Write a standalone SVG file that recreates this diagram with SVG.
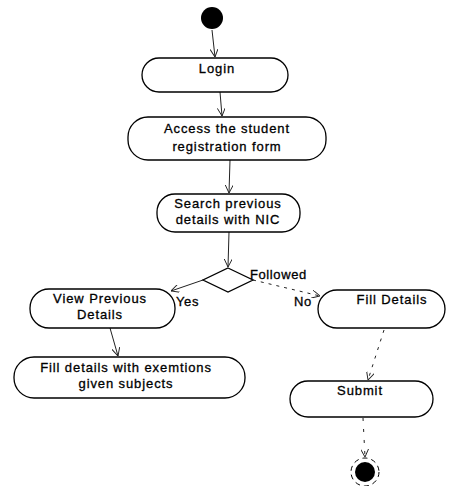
<svg xmlns="http://www.w3.org/2000/svg" width="457" height="486" viewBox="0 0 457 486">
<style>
.node{fill:#fff;stroke:#000;stroke-width:1.3}
.t{font-family:"Liberation Sans",Arial,sans-serif;font-size:13px;letter-spacing:0.9px;fill:#000;stroke:#000;stroke-width:0.3;text-anchor:middle}
.lbl{font-family:"Liberation Sans",Arial,sans-serif;font-size:13px;letter-spacing:0.6px;fill:#000;stroke:#000;stroke-width:0.3}
.c{fill:none;stroke:#222;stroke-width:1}
</style>
<defs>
<marker id="arr" viewBox="0 0 10 10" refX="10" refY="5" markerWidth="8" markerHeight="8" orient="auto" markerUnits="userSpaceOnUse">
<path d="M0,0 L10,5 L0,10" fill="none" stroke="#222" stroke-width="1.2"/>
</marker>
</defs>
<rect width="457" height="486" fill="#fff"/>
<g id="connectors">
<line class="c" x1="212" y1="30" x2="215" y2="57" marker-end="url(#arr)"/>
<line class="c" x1="220" y1="92" x2="222" y2="116" marker-end="url(#arr)"/>
<line class="c" x1="230" y1="160" x2="229" y2="193" marker-end="url(#arr)"/>
<line class="c" x1="229" y1="232" x2="228" y2="267" marker-end="url(#arr)"/>
<line class="c" x1="203" y1="280" x2="171" y2="291" marker-end="url(#arr)"/>
<line class="c" x1="253" y1="280" x2="320" y2="296" stroke-dasharray="3 5" marker-end="url(#arr)"/>
<line class="c" x1="110" y1="328" x2="118" y2="356" marker-end="url(#arr)"/>
<line class="c" x1="384" y1="330" x2="368" y2="380" stroke-dasharray="3 6" marker-end="url(#arr)"/>
<line class="c" x1="363" y1="418" x2="365" y2="457" stroke-dasharray="3 8" marker-end="url(#arr)"/>
</g>
<g id="start"><circle cx="212" cy="18" r="11" fill="#000"/></g>
<g id="login"><rect class="node" x="142" y="58" width="146" height="34" rx="17"/><text class="t" x="217" y="73">Login</text></g>
<g id="access"><rect class="node" x="128" y="117" width="198" height="43" rx="20"/><text class="t" x="227" y="133">Access the student</text><text class="t" x="227" y="151">registration form</text></g>
<g id="search"><rect class="node" x="157" y="194" width="143" height="38" rx="18"/><text class="t" x="228" y="208">Search previous</text><text class="t" x="228" y="224">details with NIC</text></g>
<g id="decision"><polygon class="node" points="228,268 253,280 228,292 203,280"/><text class="lbl" x="250" y="279">Followed</text></g>
<g id="viewprev"><rect class="node" x="30" y="289" width="145" height="39" rx="19"/><text class="t" x="100" y="303">View Previous</text><text class="t" x="100" y="319">Details</text></g>
<g id="yes"><text class="lbl" x="176" y="306">Yes</text></g>
<g id="fillexempt"><rect class="node" x="14" y="357" width="231" height="41" rx="20"/><text class="t" x="126" y="372">Fill details with exemtions</text><text class="t" x="126" y="388">given subjects</text></g>
<g id="no"><text class="lbl" x="294" y="306">No</text></g>
<g id="filldetails"><rect class="node" x="318" y="290" width="127" height="38" rx="19"/><text class="t" x="392" y="304">Fill Details</text></g>
<g id="submit"><rect class="node" x="290" y="381" width="143" height="36" rx="18"/><text class="t" x="360" y="395">Submit</text></g>
<g id="end"><circle cx="365" cy="472" r="14" fill="none" stroke="#000" stroke-width="1" stroke-dasharray="5 4"/><circle cx="365" cy="472" r="10" fill="#000"/></g>
</svg>
